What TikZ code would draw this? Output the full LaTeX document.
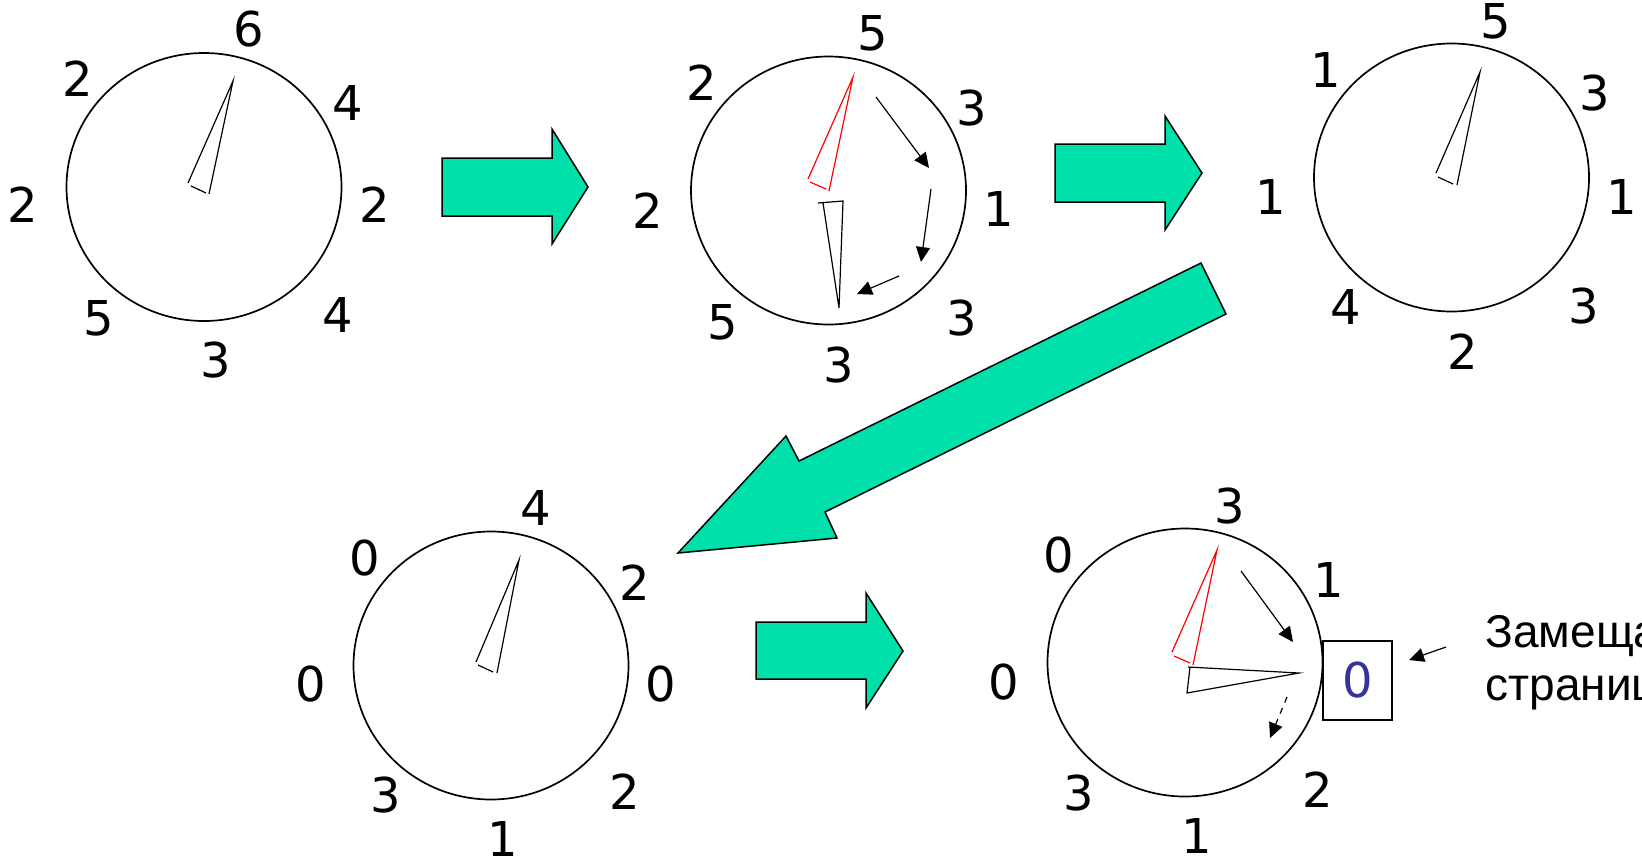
\documentclass[tikz,border=0pt]{standalone}
\usepackage{fontspec}
\setmainfont{DejaVu Sans}
\newfontfamily\notefont{Liberation Sans}
\usetikzlibrary{arrows.meta, shapes.geometric}
\definecolor{mygreen}{RGB}{0, 224, 170}
\definecolor{myblue}{RGB}{51, 51, 153}

\begin{document}
\begin{tikzpicture}[x=0.5pt, y=-0.5pt,
  face/.style={draw, ellipse, line width=0.85pt, minimum width=137.5pt,
               minimum height=134pt, inner sep=0pt},
  num/.style={inner sep=0pt, font=\fontsize{24}{28}\selectfont},
  hand/.style={line width=0.6pt},
  oldhand/.style={hand, draw=red},
  move/.style={-{Triangle[length=7.5pt, width=7pt]}, line width=0.6pt},
  maybemove/.style={move, dashed},
  bigarrow/.style={draw, fill=mygreen, line width=0.75pt},
  framebox/.style={draw, line width=1pt, minimum width=34.5pt, minimum height=39.5pt,
                   inner sep=0pt, text=myblue, font=\fontsize{24}{28}\selectfont},
  note/.style={inner sep=0pt, anchor=base west, font=\notefont\fontsize{23}{27}\selectfont}
]
\clip (0,0) rectangle (1642,863);

% Clock 1
\node[face] (c1) at (204,187) {};
\node[num] (c1-n) at (249,29) {6};
\node[num] (c1-ne) at (348,103) {4};
\node[num] (c1-e) at (375,205) {2};
\node[num] (c1-se) at (338,315) {4};
\node[num] (c1-s) at (216,360) {3};
\node[num] (c1-sw) at (99,318) {5};
\node[num] (c1-w) at (23,205) {2};
\node[num] (c1-nw) at (78,79) {2};
\draw[hand] (188,183) -- (233,81) -- (209,194) (191,186) -- (206,193);

% Clock 2
\node[face] (c2) at (828.5,190.5) {};
\node[num] (c2-n) at (873,33) {5};
\node[num] (c2-ne) at (972,108) {3};
\node[num] (c2-e) at (999,209) {1};
\node[num] (c2-se) at (962,318) {3};
\node[num] (c2-s) at (839,365) {3};
\node[num] (c2-sw) at (723,322) {5};
\node[num] (c2-w) at (648,211) {2};
\node[num] (c2-nw) at (702,83) {2};
\draw[oldhand] (808,179) -- (853,77) -- (829,191) (810,182) -- (826,189);
\draw[hand] (818,203) -- (843,201) -- (839,308) -- (823,203);
\coordinate (c2-a) at (876,97);
\coordinate (c2-b) at (929,168);
\coordinate (c2-c) at (931,189);
\coordinate (c2-d) at (921,262);
\coordinate (c2-e1) at (899,276);
\coordinate (c2-f) at (857,294);
\draw[move] (c2-a) -- (c2-b);
\draw[move] (c2-c) -- (c2-d);
\draw[move] (c2-e1) -- (c2-f);

% Clock 3
\node[face] (c3) at (1451.5,177.5) {};
\node[num] (c3-n) at (1496,21) {5};
\node[num] (c3-ne) at (1595,93) {3};
\node[num] (c3-e) at (1622,197) {1};
\node[num] (c3-se) at (1584,306) {3};
\node[num] (c3-s) at (1463,352) {2};
\node[num] (c3-sw) at (1346,307) {4};
\node[num] (c3-w) at (1271,197) {1};
\node[num] (c3-nw) at (1326,70) {1};
\draw[hand] (1436,173) -- (1480,72) -- (1457,185) (1438,177) -- (1453,184);

% Clock 4
\node[face] (c4) at (491,665.5) {};
\node[num] (c4-n) at (536,508) {4};
\node[num] (c4-ne) at (635,583) {2};
\node[num] (c4-e) at (661,684) {0};
\node[num] (c4-se) at (625,792) {2};
\node[num] (c4-s) at (503,839) {1};
\node[num] (c4-sw) at (386,795) {3};
\node[num] (c4-w) at (311,684) {0};
\node[num] (c4-nw) at (365,558) {0};
\draw[hand] (476,662) -- (519,560) -- (497,673) (478,665) -- (493,672);

% Clock 5
\node[face] (c5) at (1185,662.5) {};
\node[num] (c5-n) at (1230,506) {3};
\node[num] (c5-ne) at (1329,580) {1};
\node[framebox] (c5-e) at (1357.5,680.5) {0};
\node[num] (c5-se) at (1318,790) {2};
\node[num] (c5-s) at (1197,836) {1};
\node[num] (c5-sw) at (1079,793) {3};
\node[num] (c5-w) at (1004,682) {0};
\node[num] (c5-nw) at (1059,555) {0};
\draw[oldhand] (1172,652) -- (1217,550) -- (1193,665) (1174,656) -- (1190,663);
\draw[hand] (1188,667) -- (1299,673) -- (1187,693) -- (1190,667);
\coordinate (c5-a) at (1241,571);
\coordinate (c5-b) at (1293,642);
\coordinate (c5-c) at (1287,697);
\coordinate (c5-d) at (1270,738);
\draw[move] (c5-a) -- (c5-b);
\draw[maybemove] (c5-c) -- (c5-d);

% Note
\node[note] (note) at (1485,647) {Замещаемые};
\node[note] (note2) at (1485,700) {страницы};
\coordinate (note-a) at (1446,647);
\draw[move] (note-a) -- ([xshift=8pt,yshift=10.25pt]c5-e.east);

% Big arrows
\draw[bigarrow] (442,158) -- (552,158) -- (552,129) -- (588,187) -- (552,244)
  -- (552,216) -- (442,216) -- cycle;
\draw[bigarrow] (1055,144) -- (1165,144) -- (1165,116) -- (1202,173) -- (1165,230)
  -- (1165,202) -- (1055,202) -- cycle;
\draw[bigarrow] (1201,263) -- (1226,314) -- (825,512) -- (837,538) -- (678,553)
  -- (786,436) -- (799,461) -- cycle;
\draw[bigarrow] (756,622) -- (866,622) -- (866,593) -- (903,651) -- (866,708)
  -- (866,679) -- (756,679) -- cycle;

\end{tikzpicture}
\end{document}
